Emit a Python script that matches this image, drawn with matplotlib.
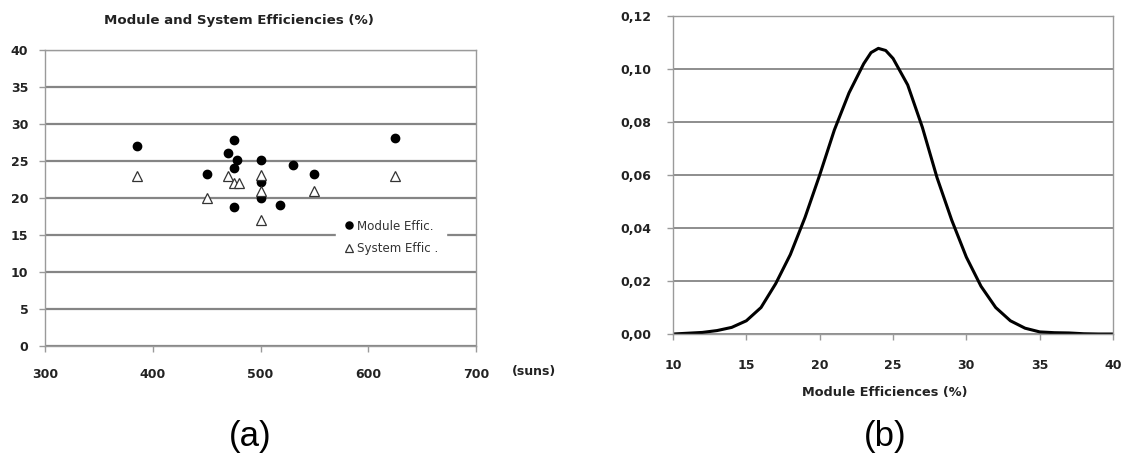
"""
Module / system efficiencies vs concentration, and module efficiency distribution
"""

import numpy as np
import matplotlib
matplotlib.use("Agg")
import matplotlib.pyplot as plt

plt.rcParams['font.family'] = ['DejaVu Sans']

# (a) efficiencies against concentration (suns)
module_suns = [385, 450, 470, 475, 475, 478, 475, 500, 500, 500, 518, 530, 550, 625]
module_eff = [27.0, 23.2, 26.1, 27.9, 24.1, 25.1, 18.8, 25.1, 22.1, 20.0, 19.1, 24.5, 23.2, 28.1]
system_suns = [385, 450, 470, 475, 480, 500, 500, 500, 550, 625]
system_eff = [23.0, 20.0, 23.0, 22.0, 22.0, 23.1, 21.0, 17.0, 21.0, 23.0]

# (b) distribution of module efficiencies
dist_x = [10, 11, 12, 13, 14, 15, 16, 17, 18, 19, 20, 21, 22, 23, 23.5, 24, 24.5, 25,
          26, 27, 28, 29, 30, 31, 32, 33, 34, 35, 36, 37, 38, 39, 40]
dist_y = [0.0, 0.0003, 0.0006, 0.0013, 0.0025, 0.0050, 0.0100, 0.0190, 0.0300, 0.0440,
          0.0600, 0.0770, 0.0910, 0.1020, 0.1062, 0.1078, 0.1070, 0.1040, 0.0940, 0.0780,
          0.0590, 0.0430, 0.0290, 0.0180, 0.0100, 0.0050, 0.0022, 0.0008, 0.0005, 0.0004,
          0.0001, 0.0, 0.0]

GRID = "#858585"
SPINE = "#9a9a9a"
TXT = "#222222"

fig = plt.figure(figsize=(11.26, 4.58), dpi=100)

def style(ax, xpad, ypad):
    for s in ax.spines.values():
        s.set_color(SPINE)
        s.set_linewidth(1.0)
    ax.tick_params(direction="out", length=4, width=1, color=SPINE, labelsize=9)
    ax.tick_params(axis="x", pad=xpad)
    ax.tick_params(axis="y", pad=ypad)
    for lab in ax.get_xticklabels() + ax.get_yticklabels():
        lab.set_fontweight("bold")
        lab.set_color(TXT)
    ax.set_axisbelow(True)

# --- (a) ---
ax1 = fig.add_axes([0.040, 0.2445, 0.3827, 0.6463])
ax1.set_xlim(300, 700)
ax1.set_ylim(0, 40)
ax1.set_xticks(np.arange(300, 701, 100))
ax1.set_yticks(np.arange(0, 41, 5))
ax1.yaxis.grid(True, color=GRID, linewidth=1.6)
ax1.plot(module_suns, module_eff, "o", color="black", markersize=6, label="Module Effic.")
ax1.plot(system_suns, system_eff, "^", markerfacecolor="white", markeredgecolor="#333333",
         markeredgewidth=0.9, markersize=6.5, label="System Effic .")
style(ax1, xpad=11.5, ypad=8)

fig.text(0.212, 0.956, "Module and System Efficiencies (%)", fontsize=9.6,
         fontweight="bold", color=TXT, ha="center", va="center")
fig.text(0.474, 0.188, "(suns)", fontsize=9, fontweight="bold", color=TXT,
         ha="center", va="center")

leg = ax1.legend(loc="center left", bbox_to_anchor=(0.675, 0.367), frameon=True,
                 fontsize=8.6, handletextpad=0.2, handlelength=1.0, borderpad=0.6,
                 labelspacing=0.8, borderaxespad=0, markerscale=0.85)
leg.get_frame().set_facecolor("white")
leg.get_frame().set_edgecolor("white")
leg.get_frame().set_alpha(1.0)
for t in leg.get_texts():
    t.set_color("#333333")

fig.text(0.222, 0.046, "(a)", fontsize=25, ha="center", va="center",
         family="Liberation Sans")

# --- (b) ---
ax2 = fig.add_axes([0.5977, 0.2707, 0.3908, 0.6943])
ax2.set_xlim(10, 40)
ax2.set_ylim(0, 0.12)
ax2.set_xticks(np.arange(10, 41, 5))
yt = np.arange(0, 0.121, 0.02)
ax2.set_yticks(yt)
ax2.set_yticklabels([f"{v:.2f}".replace(".", ",") for v in yt])
ax2.yaxis.grid(True, color=GRID, linewidth=1.3)
ax2.plot(dist_x, dist_y, color="black", linewidth=2.2, solid_joinstyle="round")
style(ax2, xpad=14, ypad=11.5)
fig.text(0.786, 0.144, "Module Efficiences (%)", fontsize=9.3, fontweight="bold",
         color=TXT, ha="center", va="center")

fig.text(0.786, 0.046, "(b)", fontsize=25, ha="center", va="center",
         family="Liberation Sans")

plt.savefig("out.png", dpi=100)
